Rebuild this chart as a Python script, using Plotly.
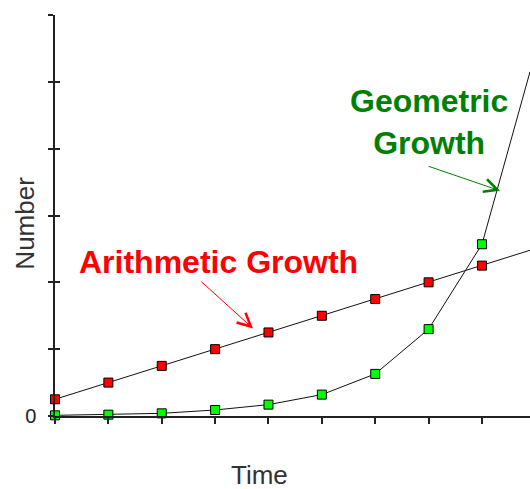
import plotly.graph_objects as go

# Data
time = [0, 1, 2, 3, 4, 5, 6, 7, 8, 8.9]
arithmetic = [0.25, 0.5, 0.75, 1.0, 1.25, 1.5, 1.75, 2.0, 2.25, 2.48]
geometric = [0.01, 0.02, 0.04, 0.09, 0.17, 0.32, 0.63, 1.3, 2.57, 5.15]
marker_sizes = [9, 9, 9, 9, 9, 9, 9, 9, 9, 0]

y_ticks = [0, 1, 2, 3, 4, 5, 6]
y_ticktext = ["0", "", "", "", "", "", ""]
x_ticks = [0, 1, 2, 3, 4, 5, 6, 7, 8]

fig = go.Figure()
fig.add_trace(go.Scatter(
    x=time, y=arithmetic, mode="lines+markers",
    line=dict(color="#111111", width=1),
    marker=dict(symbol="square", size=marker_sizes, color="#ff0000", opacity=1,
                line=dict(color="#000000", width=1)),
    cliponaxis=False, showlegend=False))
fig.add_trace(go.Scatter(
    x=time, y=geometric, mode="lines+markers",
    line=dict(color="#111111", width=1),
    marker=dict(symbol="square", size=marker_sizes, color="#00ff00", opacity=1,
                line=dict(color="#000000", width=1)),
    cliponaxis=False, showlegend=False))

fig.update_layout(
    width=530, height=489,
    margin=dict(l=55, r=0, t=15, b=73),
    paper_bgcolor="white", plot_bgcolor="white",
    font=dict(family="Liberation Sans, Arial, sans-serif", color="#222222"),
    xaxis=dict(range=[0, 8.9], showgrid=False, zeroline=False,
               showline=True, linecolor="#222222", linewidth=1.5,
               tickvals=x_ticks, ticktext=["" for _ in x_ticks],
               ticks="outside", ticklen=6, tickwidth=1.5, tickcolor="#222222"),
    yaxis=dict(range=[0, 6], showgrid=False, zeroline=False,
               showline=True, linecolor="#222222", linewidth=1.5,
               tickvals=y_ticks, ticktext=y_ticktext,
               ticks="outside", ticklen=5, tickwidth=1.5, tickcolor="#222222",
               tickfont=dict(size=20, color="#222222"), ticklabelstandoff=8,
               automargin=False),
    yaxis2=dict(range=[0, 6], overlaying="y", side="left", showgrid=False,
                zeroline=False, showline=False, tickvals=y_ticks,
                ticktext=["" for _ in y_ticks], ticks="inside", ticklen=5,
                tickwidth=1.5, tickcolor="#222222", automargin=False),
)
# invisible trace to activate yaxis2 (crossing tick marks)
fig.add_trace(go.Scatter(x=[0], y=[0], yaxis="y2", mode="markers",
                         marker=dict(opacity=0), showlegend=False, hoverinfo="skip"))

anns = [
    dict(text="Number", xref="paper", yref="paper", x=-0.065, y=0.48,
         xanchor="center", yanchor="middle", textangle=-90, showarrow=False,
         font=dict(size=26, color="#333333")),
    dict(text="Time", xref="x", yref="paper", x=3.84, y=-0.147,
         xanchor="center", yanchor="middle", showarrow=False,
         font=dict(size=26, color="#333333")),
    dict(text="Arithmetic Growth", xref="x", yref="y", x=3.07, y=2.30,
         xanchor="center", yanchor="middle", showarrow=False,
         font=dict(size=32, color="#ff0000", weight="bold")),
    dict(text="Geometric<br>Growth", xref="x", yref="y", x=7.0, y=4.40,
         xanchor="center", yanchor="middle", showarrow=False,
         font=dict(size=32, color="#008000", weight="bold")),
    dict(text="", xref="x", yref="y", x=3.71, y=1.31, ax=-53, ay=-48,
         showarrow=True, arrowhead=5, arrowsize=2.6, arrowwidth=1, arrowcolor="#ff0000"),
    dict(text="", xref="x", yref="y", x=8.34, y=3.37, ax=-73, ay=-25,
         showarrow=True, arrowhead=5, arrowsize=2.6, arrowwidth=1, arrowcolor="#008000"),
]
fig.update_layout(annotations=anns)

fig.write_html(
    "out.html",
    config={"displayModeBar": False},
    post_script="document.body.style.margin='0';document.body.style.overflow='hidden';",
)
